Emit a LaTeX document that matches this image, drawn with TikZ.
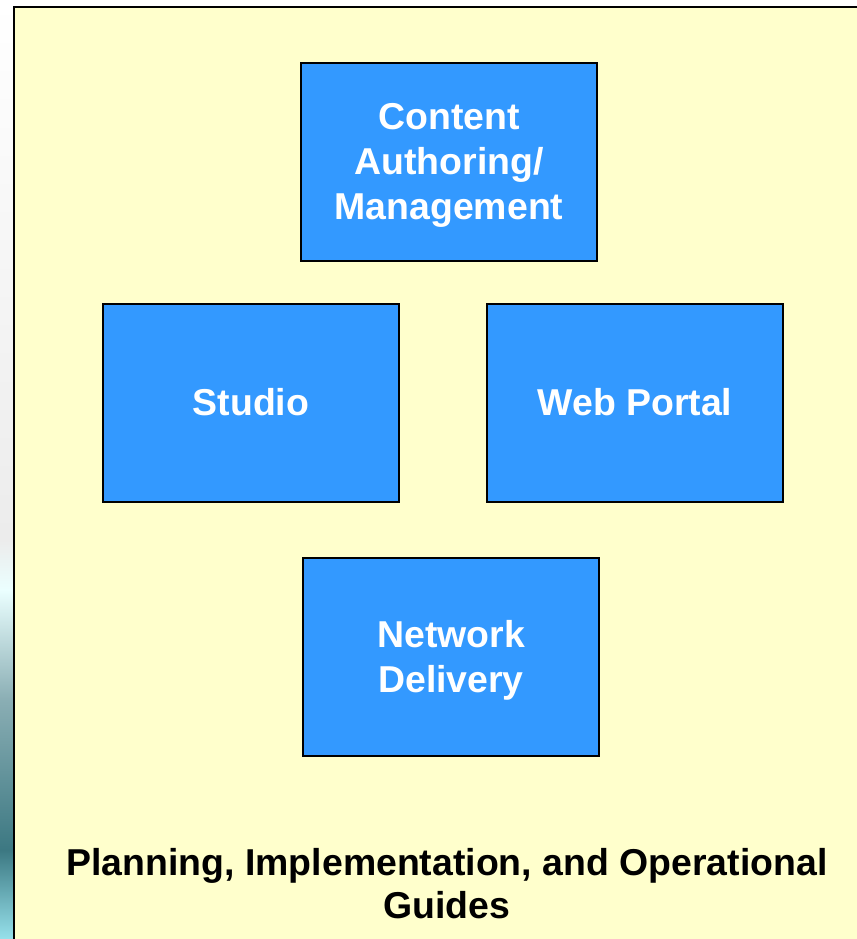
\documentclass[tikz,border=0pt]{standalone}
\usepackage{fontspec}
\setmainfont{Liberation Sans}
\definecolor{panelyellow}{RGB}{255,255,204}
\definecolor{boxblue}{RGB}{51,153,255}
\definecolor{stripteal}{RGB}{60,120,130}
\definecolor{stripcyan}{RGB}{150,225,235}
% text in a box sits a little below the middle
\newcommand{\boxtext}[1]{\raisebox{-7.3pt}[0pt][0pt]{\begin{tabular}{@{}c@{}}#1\end{tabular}}}
\begin{document}
\begin{tikzpicture}[x=0.02cm, y=-0.02cm,
        block/.style={draw=black, line width=1.2pt, fill=boxblue, text=white, font=\bfseries\fontsize{21.3}{25.5}\selectfont,
                      align=center, minimum width=5.92cm, minimum height=3.96cm, inner sep=0pt},
        guide/.style={font=\bfseries\fontsize{21.3}{24.5}\selectfont, align=center}]
    \useasboundingbox (0,0) rectangle (857,939);
    % background strip on the left
    \fill[white] (0,0) rectangle (857,939);
    \shade[top color=white, bottom color=gray!15] (0,0) rectangle (14,540);
    \shade[top color=gray!15, bottom color=cyan!8] (0,540) rectangle (14,590);
    \shade[top color=cyan!8, bottom color=stripteal!60] (0,590) rectangle (14,700);
    \shade[top color=stripteal!60, bottom color=stripteal] (0,700) rectangle (14,850);
    \shade[top color=stripteal, bottom color=stripcyan] (0,850) rectangle (14,939);
    % panel
    \fill[panelyellow] (14,7) rectangle (857,939);
    \draw[line width=1.5pt] (14,939) -- (14,7) -- (857,7);

    \node[block] (content) at (449,162) {\boxtext{Content\\Authoring/\\Management}};
    \node[block] (studio) at (251,403) {\boxtext{Studio}};
    \node[block] (portal) at (635,403) {\boxtext{Web Portal}};
    \node[block] (delivery) at (451,657) {\boxtext{Network\\Delivery}};

    \node[guide] (guides) at (447,884) {Planning, Implementation, and Operational\\Guides};
\end{tikzpicture}
\end{document}
